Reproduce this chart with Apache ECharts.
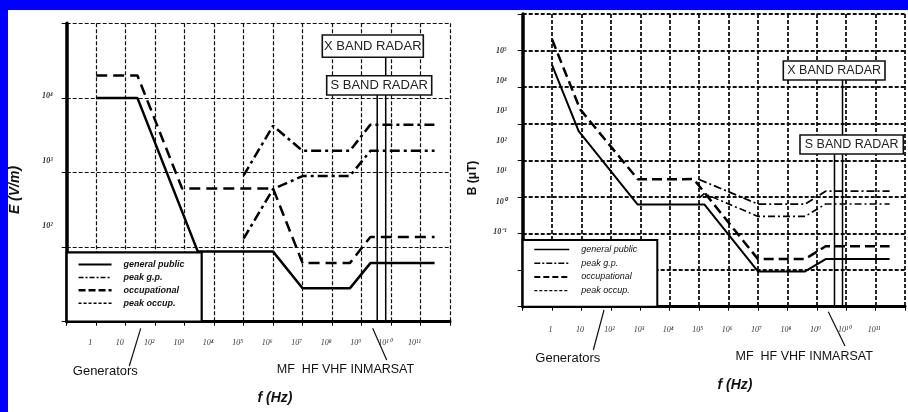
<!DOCTYPE html>
<html><head><meta charset="utf-8">
<script src="https://cdn.jsdelivr.net/npm/echarts@6/dist/echarts.min.js"></script>
<style>html,body{margin:0;padding:0;background:#fff}#c{width:908px;height:412px}</style>
</head><body><div id="c"></div>
<script>
// ---------------- data ----------------
const xTickLabels = ['1','10','10²','10³','10⁴','10⁵','10⁶','10⁷','10⁸','10⁹','10¹⁰','10¹¹']; // 10^0 .. 10^11 Hz
const eTickLabels = ['10⁴','10³','10²'];
const bTickLabels = ['10⁵','10⁴','10³','10²','10¹','10⁰','10⁻¹'];
const seriesNames = ['general public','peak g.p.','occupational','peak occup.'];

// Left chart: E (V/m) vs f (Hz)
const eGpF   = [1, 25, 2800, 1e6, 1e7, 4e8, 2e9, 3e11];
const eGpV   = [1e4, 1e4, 87, 87, 28, 28, 61, 61];
const eOccF  = [1, 25, 820, 1e6, 1e7, 4e8, 2e9, 3e11];
const eOccV  = [2e4, 2e4, 610, 610, 61, 61, 137, 137];
const ePgpF  = [1e5, 1e6, 1e7, 4e8, 2e9, 3e11];
const ePgpV  = [130, 600, 896, 896, 1950, 1950];
const ePoccF = [1e5, 1e6, 1e7, 4e8, 2e9, 3e11];
const ePoccV = [915, 4230, 1950, 1950, 4380, 4380];

// Right chart: B (μT) vs f (Hz)
const bGpF   = [1, 8, 800, 1.5e5, 1e7, 4e8, 2e9, 3e11];
const bGpV   = [4e4, 625, 6.25, 6.25, 0.092, 0.092, 0.2, 0.2];
const bOccF  = [1, 9, 820, 6.5e4, 1e7, 4e8, 2e9, 3e11];
const bOccV  = [2e5, 2470, 30.5, 30.7, 0.2, 0.2, 0.45, 0.45];
const bPgpF  = [1e5, 1.5e5, 1e7, 4e8, 2e9, 3e11];
const bPgpV  = [9.4, 12.3, 2.94, 2.94, 6.4, 6.4];
const bPoccF = [1e5, 1e7, 4e8, 2e9, 3e11];
const bPoccV = [30, 6.4, 6.4, 14.4, 14.4];

// Radar marker lines
const radarNames = ['X BAND RADAR', 'S BAND RADAR'];
const eRadarF = [6.6e9, 3.4e9];
const eRadarTop = [3.5e4, 1.1e4];
const bRadarF = [7.5e9, 4.0e9];
const bRadarTop = [1.57e4, 149];

// ---------------- helpers ----------------
const L = Math.log10;
const pts = (F, V) => F.map((f, i) => [L(f), L(V[i])]);

const chart = echarts.init(document.getElementById('c'), null, {renderer: 'canvas'});

function xAxisCfg(gridIndex, margin, pad, w) {
  return {
    type: 'value', gridIndex, min: -1, max: 12, interval: 1,
    axisLine: {show: true, onZero: false, lineStyle: {color: '#000', width: 3}},
    axisTick: {show: true, length: 4, lineStyle: {color: '#000', width: 1}},
    splitLine: {show: true, lineStyle: {color: '#111', width: w, type: [4, 2]}},
    axisLabel: {
      margin, padding: [0, pad, 0, 0], fontSize: 8, fontStyle: 'italic', fontFamily: 'Liberation Serif', color: '#333',
      formatter: v => { const k = Math.round(v); return (k >= 0 && k <= 11) ? xTickLabels[k] : ''; }
    }
  };
}
function yAxisCfg(gridIndex, min, max, w) {
  return {
    type: 'value', gridIndex, min, max, interval: 1,
    axisLine: {show: true, onZero: false, lineStyle: {color: '#000', width: 3.5}},
    axisTick: {show: true, length: 5, lineStyle: {color: '#000', width: 1}},
    splitLine: {show: true, lineStyle: {color: '#111', width: w, type: [4, 2]}},
    axisLabel: {show: false}
  };
}
function labelAxisCfg(gridIndex, min, max, values, labels, top, margin) {
  return {
    type: 'value', gridIndex, min, max, position: 'left',
    axisLine: {show: false}, axisTick: {show: false}, splitLine: {show: false},
    axisLabel: {
      show: true, margin, customValues: values, fontSize: 8, fontStyle: 'italic', fontWeight: 'bold',
      fontFamily: 'Liberation Serif', color: '#333',
      formatter: v => labels[Math.round(top - v)] || ''
    }
  };
}
function lineSeries(name, data, xi, yi, style, z) {
  return {name, type: 'line', xAxisIndex: xi, yAxisIndex: yi, data, symbol: 'none', silent: true,
          itemStyle: {color: '#000'},
          lineStyle: Object.assign({color: '#000'}, style), z: z || 3};
}

const series = [
  lineSeries(seriesNames[0], pts(eGpF, eGpV), 0, 0, {width: 2.5, type: 'solid'}),
  lineSeries(seriesNames[1], pts(ePgpF, ePgpV), 0, 0, {width: 2.5, type: [10, 4, 3, 4]}),
  lineSeries(seriesNames[2], pts(eOccF, eOccV), 0, 0, {width: 2.5, type: [11, 6]}),
  lineSeries(seriesNames[3], pts(ePoccF, ePoccV), 0, 0, {width: 2.5, type: [10, 4, 3, 4]}),
  lineSeries(seriesNames[0], pts(bGpF, bGpV), 1, 2, {width: 2, type: 'solid'}),
  lineSeries(seriesNames[1], pts(bPgpF, bPgpV), 1, 2, {width: 1.6, type: [7, 3, 2, 3]}),
  lineSeries(seriesNames[2], pts(bOccF, bOccV), 1, 2, {width: 2.5, type: [10, 5]}),
  lineSeries(seriesNames[3], pts(bPoccF, bPoccV), 1, 2, {width: 1.8, type: [8, 3, 2, 3]})
];
eRadarF.forEach((f, i) => series.push(lineSeries('r' + i, [[L(f), L(eRadarTop[i])], [L(f), 1]], 0, 0, {width: 1.5})));
bRadarF.forEach((f, i) => series.push(lineSeries('rb' + i, [[L(f), L(bRadarTop[i])], [L(f), -2]], 1, 2, {width: 1.5})));

function legendCfg(left, top, iw, gap, weight, items) {
  return {
    show: true, orient: 'vertical', left, top, padding: 0, itemWidth: iw, itemHeight: 10, itemGap: gap,
    selectedMode: false, data: items, z: 6,
    itemStyle: {color: 'rgba(0,0,0,0)', borderColor: 'rgba(0,0,0,0)', borderWidth: 0, opacity: 0},
    textStyle: {fontSize: 9, fontStyle: 'italic', fontWeight: weight, fontFamily: 'Liberation Sans', color: '#111', padding: [0, 0, 0, 7]}
  };
}

const font = (s, w, st) => `${st || 'normal'} ${w || 'normal'} ${s}px "Liberation Sans", Arial, sans-serif`;
function box(x, y, w, h, text, fs) {
  return [
    {type: 'rect', z: 20, shape: {x, y, width: w, height: h}, style: {fill: '#fff', stroke: '#111', lineWidth: 1.6}},
    {type: 'text', z: 21, style: {text, x: x + w / 2, y: y + h / 2 + 0.5, align: 'center', verticalAlign: 'middle', font: font(fs), fill: '#222'}}
  ];
}
function txt(text, x, y, f, rot) {
  return {type: 'text', z: 21, x, y, rotation: rot || 0, style: {text, x: 0, y: 0, align: 'center', verticalAlign: 'middle', font: f, fill: '#111'}};
}
function seg(x1, y1, x2, y2) {
  return {type: 'line', z: 21, shape: {x1, y1, x2, y2}, style: {stroke: '#111', lineWidth: 1.2}};
}

const graphics = [
  {type: 'rect', z: 50, shape: {x: 0, y: 0, width: 908, height: 10}, style: {fill: '#0000ff'}},
  {type: 'rect', z: 50, shape: {x: 0, y: 0, width: 8, height: 412}, style: {fill: '#0000ff'}},
  // legend frames
  {type: 'rect', z: 4, shape: {x: 66.7, y: 252.3, width: 135, height: 69.4}, style: {fill: '#fff', stroke: '#000', lineWidth: 2.2}},
  {type: 'rect', z: 4, shape: {x: 522.7, y: 240, width: 134.6, height: 66.7}, style: {fill: '#fff', stroke: '#000', lineWidth: 2}},
  ...box(322.3, 35, 101, 22.3, radarNames[0], 13),
  ...box(326.7, 75.7, 105, 19.3, radarNames[1], 13),
  ...box(783.3, 61, 101.7, 19, radarNames[0], 12.5),
  ...box(800, 135, 103.3, 19, radarNames[1], 12.5),
  txt('Generators', 105.3, 371.5, font(13)),
  txt('MF  HF VHF INMARSAT', 345.5, 370, font(12.5)),
  seg(129.3, 366, 140.7, 328.3),
  seg(372.7, 328.3, 386.7, 360),
  txt('Generators', 567.8, 358.3, font(13)),
  txt('MF  HF VHF INMARSAT', 804.2, 356.7, font(12.5)),
  seg(593.3, 350, 604, 310),
  seg(828.3, 311.7, 845, 346),
  txt('f (Hz)', 275, 398, font(14, 'bold', 'italic')),
  txt('f (Hz)', 735, 385, font(14, 'bold', 'italic')),
  txt('E (V/m)', 15, 190, font(14, 'bold', 'italic'), Math.PI / 2),
  txt('B (μT)', 473, 178, font(12, 'bold'), Math.PI / 2)
];

chart.setOption({
  animation: false,
  backgroundColor: '#ffffff',
  grid: [
    {left: 66.7, top: 23.3, width: 383.3, height: 298.4},
    {left: 522.7, top: 14, width: 390, height: 292.7}
  ],
  xAxis: [xAxisCfg(0, 17, 12, 1.2), xAxisCfg(1, 19, 3, 1.8)],
  yAxis: [
    yAxisCfg(0, 1, 5, 1.2),
    labelAxisCfg(0, 0.528, 5.118, [4, 3, 2], eTickLabels, 4, 14),
    yAxisCfg(1, -2, 6, 1.8),
    labelAxisCfg(1, -3.483, 6.215, [5, 4, 3, 2, 1, 0, -1], bTickLabels, 5, 16)
  ],
  legend: [
    legendCfg(77.3, 260, 33, 3.9, 'bold', [
      {name: seriesNames[0], lineStyle: {width: 2, type: 'solid'}},
      {name: seriesNames[1], lineStyle: {width: 1.5, type: [5, 2, 2, 2]}},
      {name: seriesNames[2], lineStyle: {width: 2.5, type: [7, 3]}},
      {name: seriesNames[3], lineStyle: {width: 1.5, type: [3, 2]}}
    ]),
    legendCfg(533.3, 245, 35, 4.7, 'normal', [
      {name: seriesNames[0], lineStyle: {width: 1.5, type: 'solid'}},
      {name: seriesNames[1], lineStyle: {width: 1.5, type: [6, 2, 2, 2]}},
      {name: seriesNames[2], lineStyle: {width: 2, type: [6, 3]}},
      {name: seriesNames[3], lineStyle: {width: 1.2, type: [3, 2]}}
    ])
  ],
  graphic: {elements: graphics},
  series
});
</script></body></html>
